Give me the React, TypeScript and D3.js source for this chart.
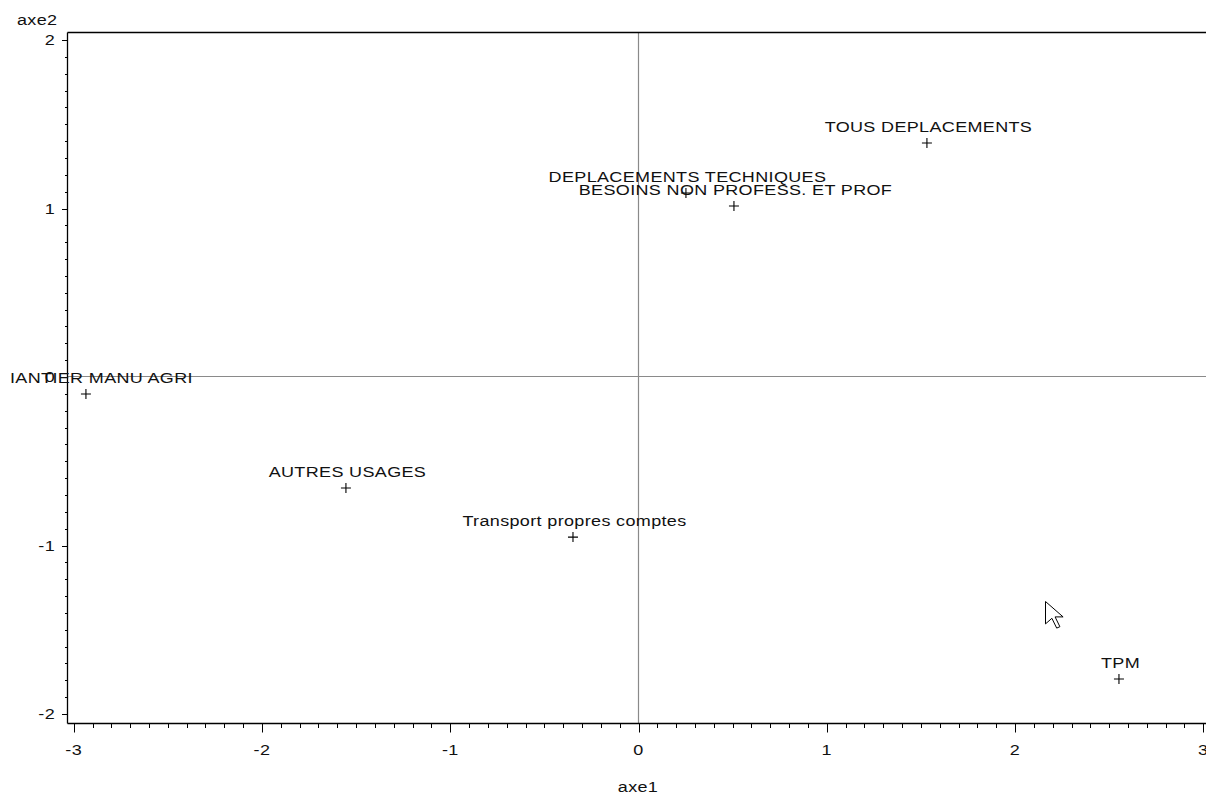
import React from "react";
import * as d3 from "d3";

// Factor map coordinates (axe1, axe2) for each modality
const labels = [
  "TOUS DEPLACEMENTS",
  "DEPLACEMENTS TECHNIQUES",
  "BESOINS NON PROFESS. ET PROF",
  "IANTIER MANU AGRI",
  "AUTRES USAGES",
  "Transport propres comptes",
  "TPM",
];
const axe1 = [1.532, 0.252, 0.507, -2.935, -1.554, -0.348, 2.552];
const axe2 = [1.389, 1.092, 1.015, -0.101, -0.659, -0.95, -1.792];

const xTicks = [-3, -2, -1, 0, 1, 2, 3];
const yTicks = [-2, -1, 0, 1, 2];

const W = 1206;
const H = 794;
const FONT = "'Liberation Sans', Arial, sans-serif";
const FS = 15;
const LS = 0.3;
const SX = 1.2;

type Anchor = "start" | "middle" | "end";

// Wide sans-serif text: glyphs stretched horizontally around the anchor point
function WideText({ x, y, anchor = "start", children }: { x: number; y: number; anchor?: Anchor; children: React.ReactNode }) {
  return (
    <text
      transform={`translate(${x},${y}) scale(${SX},1)`}
      textAnchor={anchor}
      style={{ fontFamily: FONT, fontSize: FS, letterSpacing: LS, fill: "#111" }}
    >
      {children}
    </text>
  );
}

export default function App() {
  const x = d3.scaleLinear().domain([-3, 3]).range([73.7, 1203.3]);
  const y = d3.scaleLinear().domain([-2, 2]).range([714, 40]);

  const left = 67.5;
  const right = W;
  const top = 32.5;
  const bottom = 723.5;

  const xMinor = d3.range(-30, 31).map((i) => i / 10);
  const yMinor = d3.range(-20, 21).map((i) => i / 10);

  // mouse pointer glyph
  const cursor = [
    [0, 0], [0, 16], [4, 12], [7, 19], [9, 18], [6, 11], [11, 11],
  ];
  const cx = 1045.5;
  const cy = 601.5;
  const cursorPath =
    "M" + cursor.map(([a, b]) => `${cx + a * 1.6},${cy + b * 1.4}`).join("L") + "Z";

  return (
    <svg
      width={W}
      height={H}
      style={{ position: "fixed", left: 0, top: 0, background: "#fff" }}
    >
      <rect x={0} y={0} width={W} height={H} fill="#fff" />

      {/* reference lines through the origin */}
      <line x1={Math.round(x(0)) - 0.5} x2={Math.round(x(0)) - 0.5} y1={top} y2={bottom} stroke="#8a8a8a" strokeWidth={1.2} />
      <line x1={left} x2={right} y1={Math.round(y(0)) - 0.5} y2={Math.round(y(0)) - 0.5} stroke="#8a8a8a" strokeWidth={1.2} />

      {/* frame */}
      <line x1={left} x2={right} y1={top} y2={top} stroke="#000" strokeWidth={1.3} />
      <line x1={left} x2={left} y1={top} y2={bottom} stroke="#000" strokeWidth={1.3} />
      <line x1={left} x2={right} y1={bottom} y2={bottom} stroke="#000" strokeWidth={1.3} />

      {/* x axis ticks */}
      {xMinor.map((v) => {
        const major = Math.abs(v - Math.round(v)) < 1e-9;
        const px = Math.round(x(v)) + 0.5;
        return (
          <line key={"xm" + v} x1={px} x2={px} y1={bottom} y2={bottom + (major ? 9 : 4.5)} stroke="#000" strokeWidth={1} />
        );
      })}
      {xTicks.map((v) => (
        <WideText key={"xt" + v} x={x(v)} y={755} anchor="middle">
          {v}
        </WideText>
      ))}

      {/* y axis ticks */}
      {yMinor.map((v) => {
        const major = Math.abs(v - Math.round(v)) < 1e-9;
        const py = Math.round(y(v)) + 0.5;
        return (
          <line key={"ym" + v} x1={left} x2={left - (major ? 5.5 : 2.5)} y1={py} y2={py} stroke="#000" strokeWidth={1} />
        );
      })}
      {yTicks.map((v) => (
        <WideText key={"yt" + v} x={55} y={y(v) + 5} anchor="end">
          {v}
        </WideText>
      ))}

      {/* axis titles */}
      <WideText x={17} y={25}>axe2</WideText>
      <WideText x={638} y={792} anchor="middle">axe1</WideText>

      {/* points and their labels */}
      {labels.map((lab, i) => {
        const px = x(axe1[i]);
        const py = y(axe2[i]);
        const clipped = px < 100;
        return (
          <g key={lab}>
            <path d={`M${px - 5},${py}H${px + 5}M${px},${py - 5}V${py + 5}`} stroke="#000" strokeWidth={1.1} fill="none" />
            <WideText x={clipped ? 10 : px + 1.5} y={py - 10.8} anchor={clipped ? "start" : "middle"}>
              {lab}
            </WideText>
          </g>
        );
      })}

      <path d={cursorPath} fill="#fff" stroke="#000" strokeWidth={1} strokeLinejoin="miter" />
    </svg>
  );
}
